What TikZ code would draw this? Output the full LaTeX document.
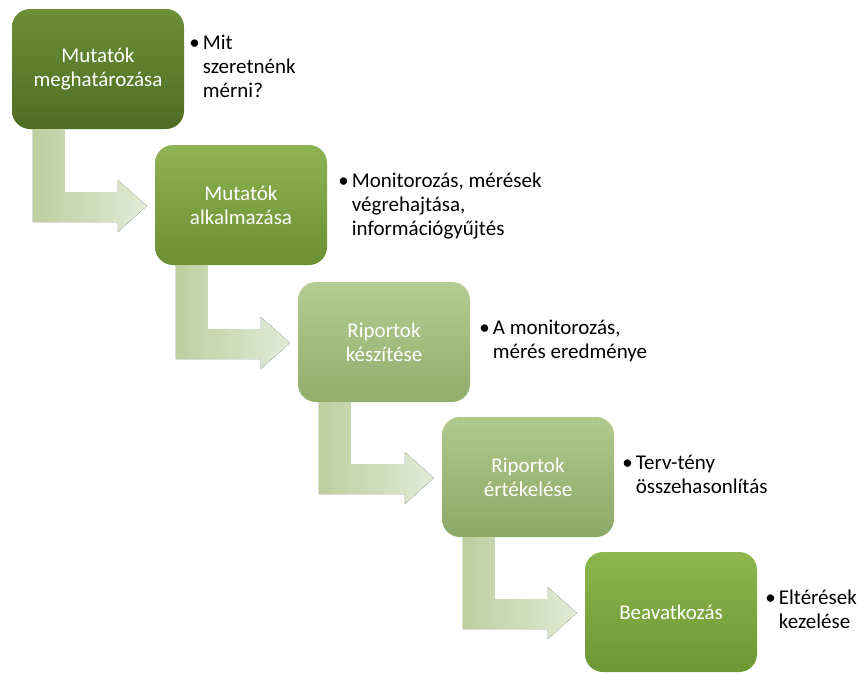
\documentclass[tikz,border=0pt]{standalone}
\usepackage{fontspec}
\setmainfont{Carlito}
\usetikzlibrary{calc,positioning}
\definecolor{nyilbal}{HTML}{BCCF9F}
\definecolor{nyiljobb}{HTML}{E2EAD6}
\def\nyil(#1)(#2){\fill[left color=nyilbal, right color=nyiljobb] let \p1=(#1.south west), \p2=(#2.west) in (\x1+21pt,\y1) -- (\x1+53pt,\y1) -- (\x1+53pt,\y2+13pt) -- (\x2-37pt,\y2+13pt) -- (\x2-37pt,\y2+25pt) -- (\x2-8pt,\y2-1pt) -- (\x2-37pt,\y2-27pt) -- (\x2-37pt,\y2-17pt) -- (\x1+21pt,\y2-17pt) -- cycle;}
\def\pont#1{\textbullet\hspace{3pt}\begin{tabular}[t]{@{}l@{}}#1\end{tabular}}

\begin{document}
\begin{tikzpicture}[x=1pt, y=-1pt,
	doboz/.style={rounded corners=18pt, minimum width=172pt, minimum height=120pt, align=center, text=white, font=\fontsize{21}{24}\selectfont},
	szoveg/.style={inner sep=0pt, align=left, font=\fontsize{21}{24}\selectfont}]
			%%%%% START %%%%%
			
			\useasboundingbox (0, 0) rectangle (858, 675);
			
			\node[doboz, top color={rgb,255:red,108;green,143;blue,55}, bottom color={rgb,255:red,78;green,109;blue,35}] (m1) at (98, 69) {Mutatók\\meghatározása};
			\node[doboz, top color={rgb,255:red,143;green,178;blue,82}, bottom color={rgb,255:red,108;green,144;blue,50}] (m2) at (241, 205) {Mutatók\\alkalmazása};
			\node[doboz, top color={rgb,255:red,180;green,205;blue,146}, bottom color={rgb,255:red,145;green,172;blue,107}] (m3) at (384, 342) {Riportok\\készítése};
			\node[doboz, top color={rgb,255:red,176;green,201;blue,141}, bottom color={rgb,255:red,141;green,168;blue,103}] (m4) at (528, 477) {Riportok\\értékelése};
			\node[doboz, top color={rgb,255:red,141;green,183;blue,78}, bottom color={rgb,255:red,107;green,150;blue,50}] (m5) at (671, 612) {Beavatkozás};
			
			\nyil(m1)(m2);
			\nyil(m2)(m3);
			\nyil(m3)(m4);
			\nyil(m4)(m5);
			
			\node[szoveg, right=5pt of m1] (t1) {\pont{Mit\\szeretnénk\\mérni?}};
			\node[szoveg, right=11pt of m2, yshift=-2pt] (t2) {\pont{Monitorozás, mérések\\végrehajtása,\\információgyűjtés}};
			\node[szoveg, right=9pt of m3] (t3) {\pont{A monitorozás,\\mérés eredménye}};
			\node[szoveg, right=8pt of m4] (t4) {\pont{Terv-tény\\összehasonlítás}};
			\node[szoveg, right=8pt of m5] (t5) {\pont{Eltérések\\kezelése}};
			
			%%%%% END %%%%%
\end{tikzpicture}
\end{document}
